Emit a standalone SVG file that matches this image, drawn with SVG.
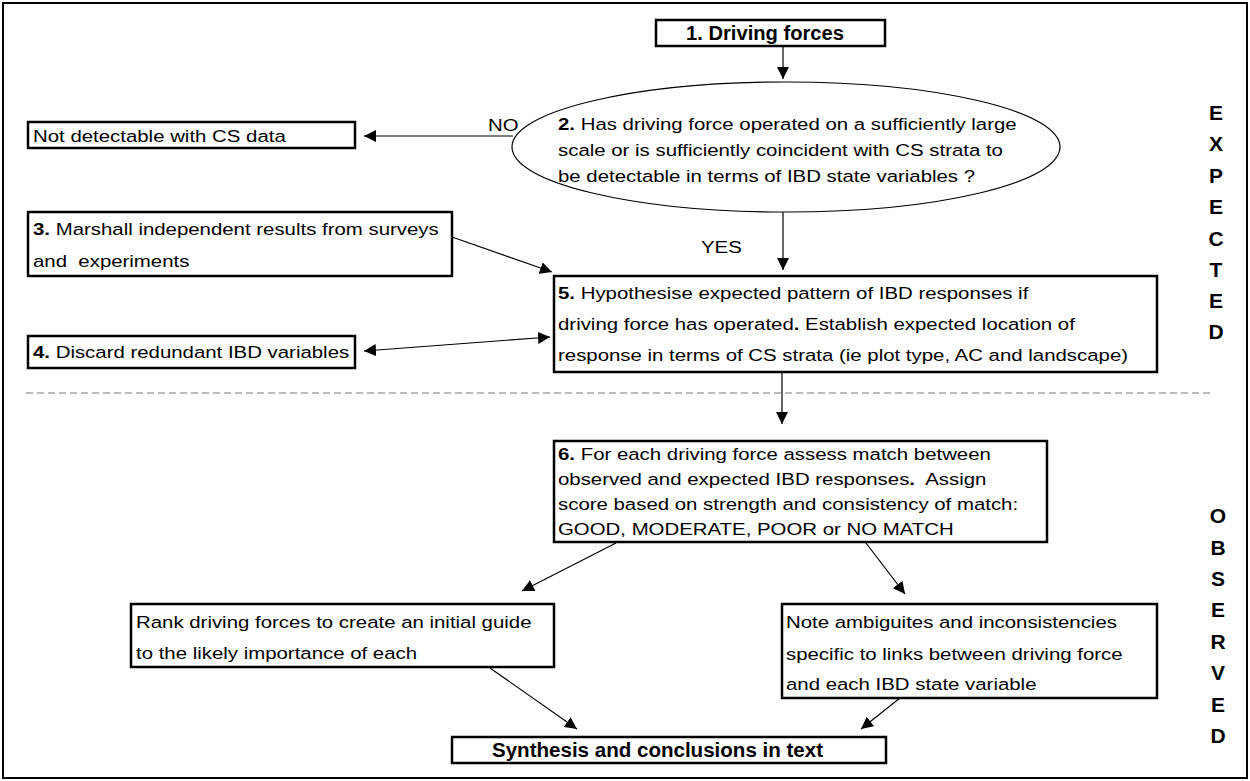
<svg xmlns="http://www.w3.org/2000/svg" width="1250" height="781" viewBox="0 0 1250 781">
<style>
.box{fill:#fff;stroke:#000;stroke-width:2.5}
.t{font-family:"Liberation Sans",Arial,sans-serif;font-size:17px;fill:#000}
.b{font-weight:bold}
.tb{font-family:"Liberation Sans",Arial,sans-serif;font-size:20px;font-weight:bold;fill:#000}
.lt{font-family:"Liberation Sans",Arial,sans-serif;font-size:21px;font-weight:bold;fill:#000;text-anchor:middle}
.c{fill:none;stroke:#000;stroke-width:1.2}
</style>
<defs>
<marker id="ah" viewBox="0 0 12 12" markerWidth="12" markerHeight="12" refX="12" refY="6" orient="auto-start-reverse" markerUnits="userSpaceOnUse"><path d="M0,0 L12,6 L0,12 z" fill="#000"/></marker>
</defs>
<rect x="3" y="3" width="1244" height="775" fill="#fff" stroke="#000" stroke-width="2"/>
<line x1="26" y1="393" x2="1213" y2="393" stroke="#777" stroke-width="1.2" stroke-dasharray="7,4"/>

<g id="connectors">
<line class="c" x1="783" y1="47" x2="783" y2="79" marker-end="url(#ah)"/>
<line class="c" x1="513" y1="136" x2="364" y2="136" marker-end="url(#ah)"/>
<line class="c" x1="783" y1="212" x2="783" y2="270" marker-end="url(#ah)"/>
<line class="c" x1="452" y1="237" x2="552" y2="272" marker-end="url(#ah)"/>
<line class="c" x1="364" y1="351" x2="550" y2="337" marker-start="url(#ah)" marker-end="url(#ah)"/>
<line class="c" x1="782" y1="373" x2="782" y2="424" marker-end="url(#ah)"/>
<line class="c" x1="616" y1="543" x2="522" y2="591" marker-end="url(#ah)"/>
<line class="c" x1="866" y1="543" x2="905" y2="594" marker-end="url(#ah)"/>
<line class="c" x1="490" y1="668" x2="577" y2="729" marker-end="url(#ah)"/>
<line class="c" x1="900" y1="698" x2="861" y2="729" marker-end="url(#ah)"/>
<text class="t" transform="matrix(1.2 0 0 1 488 131)">NO</text>
<text class="t" transform="matrix(1.2 0 0 1 701 253)">YES</text>
</g>

<g id="n1">
<rect class="box" x="656" y="20" width="229" height="26"/>
<text class="tb" x="686" y="40" textLength="158" lengthAdjust="spacingAndGlyphs">1. Driving forces</text>
</g>

<g id="n2">
<ellipse cx="786" cy="147" rx="274" ry="65" fill="#fff" stroke="#000" stroke-width="1.2"/>
<text class="t" transform="matrix(1.2 0 0 1 558 130)"><tspan class="b">2.</tspan> Has driving force operated on a sufficiently large</text>
<text class="t" transform="matrix(1.2 0 0 1 558 156)">scale or is sufficiently coincident with CS strata to</text>
<text class="t" transform="matrix(1.2 0 0 1 558 182)">be detectable in terms of IBD state variables ?</text>
</g>

<g id="nNo">
<rect class="box" x="28" y="122" width="327" height="26"/>
<text class="t" transform="matrix(1.2 0 0 1 33 142)">Not detectable with CS data</text>
</g>

<g id="n3">
<rect class="box" x="28" y="212" width="424" height="64"/>
<text class="t" transform="matrix(1.2 0 0 1 33 235)"><tspan class="b">3.</tspan> Marshall independent results from surveys</text>
<text class="t" transform="matrix(1.2 0 0 1 33 267)">and&#160; experiments</text>
</g>

<g id="n4">
<rect class="box" x="28" y="336" width="327" height="32"/>
<text class="t" transform="matrix(1.2 0 0 1 33 358)"><tspan class="b">4.</tspan> Discard redundant IBD variables</text>
</g>

<g id="n5">
<rect class="box" x="554" y="276" width="603" height="96"/>
<text class="t" transform="matrix(1.2 0 0 1 558 299)"><tspan class="b">5.</tspan> Hypothesise expected pattern of IBD responses if</text>
<text class="t" transform="matrix(1.2 0 0 1 558 330)">driving force has operated<tspan class="b">.</tspan> Establish expected location of</text>
<text class="t" transform="matrix(1.2 0 0 1 558 361)">response in terms of CS strata (ie plot type, AC and landscape)</text>
</g>

<g id="n6">
<rect class="box" x="554" y="441" width="493" height="101"/>
<text class="t" transform="matrix(1.2 0 0 1 558 460)"><tspan class="b">6.</tspan> For each driving force assess match between</text>
<text class="t" transform="matrix(1.2 0 0 1 558 485)">observed and expected IBD responses<tspan class="b">.</tspan>&#160; Assign</text>
<text class="t" transform="matrix(1.2 0 0 1 558 510)">score based on strength and consistency of match:</text>
<text class="t" transform="matrix(1.2 0 0 1 558 535)">GOOD, MODERATE, POOR or NO MATCH</text>
</g>

<g id="nRank">
<rect class="box" x="131" y="604" width="423" height="63"/>
<text class="t" transform="matrix(1.2 0 0 1 136 628)">Rank driving forces to create an initial guide</text>
<text class="t" transform="matrix(1.2 0 0 1 136 659)">to the likely importance of each</text>
</g>

<g id="nNote">
<rect class="box" x="782" y="604" width="375" height="94"/>
<text class="t" transform="matrix(1.2 0 0 1 786 628)">Note ambiguites and inconsistencies</text>
<text class="t" transform="matrix(1.2 0 0 1 786 660)">specific to links between driving force</text>
<text class="t" transform="matrix(1.2 0 0 1 786 690)">and each IBD state variable</text>
</g>

<g id="nSynth">
<rect class="box" x="452" y="737" width="434" height="26"/>
<text class="tb" x="492" y="757" textLength="331" lengthAdjust="spacingAndGlyphs">Synthesis and conclusions in text</text>
</g>

<g id="expected">
<text class="lt" x="1216" y="120">E</text>
<text class="lt" x="1216" y="151">X</text>
<text class="lt" x="1216" y="183">P</text>
<text class="lt" x="1216" y="214">E</text>
<text class="lt" x="1216" y="246">C</text>
<text class="lt" x="1216" y="277">T</text>
<text class="lt" x="1216" y="308">E</text>
<text class="lt" x="1216" y="339">D</text>
</g>
<g id="observed">
<text class="lt" x="1218" y="523">O</text>
<text class="lt" x="1218" y="555">B</text>
<text class="lt" x="1218" y="586">S</text>
<text class="lt" x="1218" y="617">E</text>
<text class="lt" x="1218" y="649">R</text>
<text class="lt" x="1218" y="680">V</text>
<text class="lt" x="1218" y="712">E</text>
<text class="lt" x="1218" y="743">D</text>
</g>
</svg>
